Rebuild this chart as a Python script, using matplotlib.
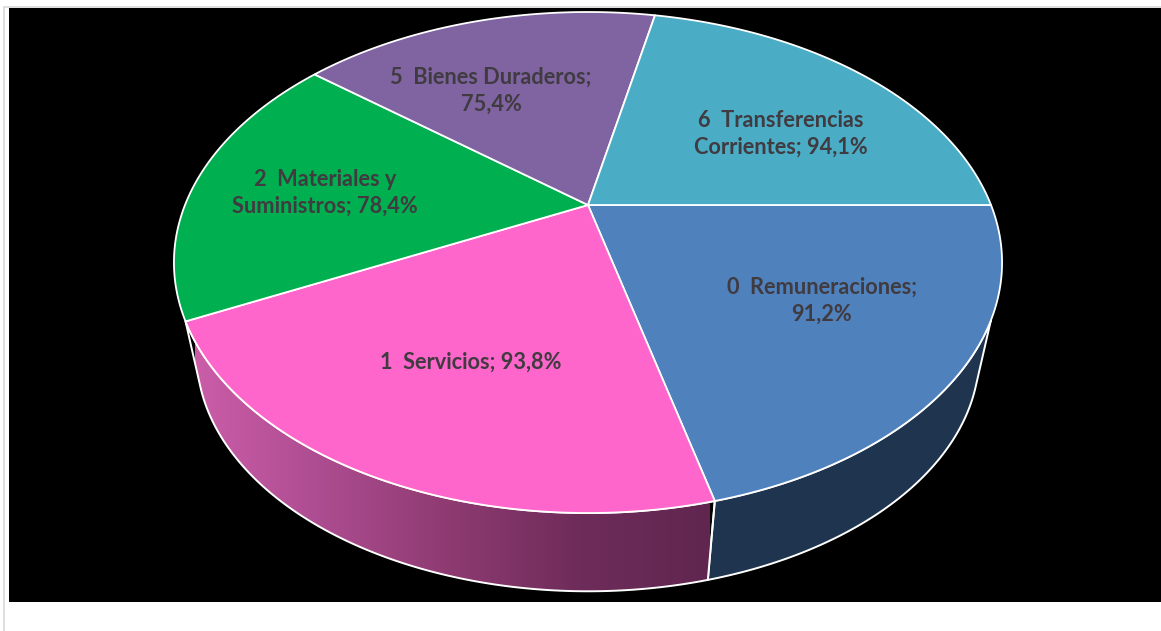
import numpy as np
import matplotlib
matplotlib.use("Agg")
import matplotlib.pyplot as plt
from matplotlib.patches import Polygon, Rectangle
from matplotlib.colors import LinearSegmentedColormap

# ---- data ----
categories = ["0  Remuneraciones", "1  Servicios", "2  Materiales y\nSuministros",
              "5  Bienes Duraderos", "6  Transferencias\nCorrientes"]
values = [91.2, 93.8, 78.4, 75.4, 94.1]
value_labels = ["91,2%", "93,8%", "78,4%", "75,4%", "94,1%"]

# ---- styles ----
top_colors = ["#4F81BD", "#FF66CC", "#00B050", "#8064A2", "#4BACC6"]
label_pos = [(822, 300.5), (471, 362), (325, 192.5), (491, 90.5), (781, 133.5)]
label_breaks = ["\n", " ", " ", "\n", " "]

plt.rcParams["font.family"] = ["Lato", "DejaVu Sans"]
W, H = 1161, 631
fig = plt.figure(figsize=(W / 100, H / 100), dpi=100, facecolor="white")
ax = fig.add_axes([0, 0, 1, 1])
ax.set_xlim(0, W)
ax.set_ylim(H, 0)
ax.axis("off")

# frame
ax.add_patch(Rectangle((3, 6), W, H, fc="#DEDEDE", ec="none", zorder=0))
ax.add_patch(Rectangle((4.5, 8), W, H, fc="white", ec="none", zorder=0.1))
ax.add_patch(Rectangle((9, 8), W, 594, fc="black", ec="none", zorder=0.2))

# perspective projection of the pie plane
XC, YC, A, B, K = 588.0, 205.0, 403.0, 237.3, 0.2296
S, YV = 0.945, 1936.0


def top_rim(t):
    c, s = np.cos(t), np.sin(t)
    d = 1 - K * s
    return XC + A * c / d, YC + B * s / d


def low_rim(t):
    x, y = top_rim(t)
    return XC + (x - XC) * S, YV + (y - YV) * S


fractions = np.array(values) / np.sum(values)
edges = np.concatenate([[0], np.cumsum(fractions)]) * 2 * np.pi

# Side walls: only the two front slices show. Each wall runs from where the
# top rim meets the silhouette, along a tangent, to the lower rim.
split = edges[1]
start_r = np.radians(25.9)   # silhouette leaves the top rim, right
start_l = edges[2]           # silhouette leaves the top rim, left

cand = np.linspace(0, split, 800)
px, py = top_rim(start_r)
lx, ly = low_rim(cand)
cand_r = cand[ly > py + 1]
angle_r = np.arctan2(ly[ly > py + 1] - py, lx[ly > py + 1] - px)
tan_r = cand_r[np.argmin(angle_r)]

cand = np.linspace(split, np.pi, 800)
qx, qy = top_rim(start_l)
lx, ly = low_rim(cand)
tan_l = cand[np.argmax(np.arctan2(ly - qy, lx - qx))]

# right wall (slice 0)
t1 = np.linspace(start_r, split, 200)
t2 = np.linspace(split, tan_r, 200)
x1, y1 = top_rim(t1)
x2, y2 = low_rim(t2)
right_pts = np.column_stack([np.r_[x1, x2], np.r_[y1, y2]])
ax.add_patch(Polygon(right_pts, closed=True, fc="#1F354F", ec="white", lw=1.4,
                     zorder=2, joinstyle="round"))

# left wall (slice 1) with horizontal shading
t1 = np.linspace(split, start_l, 200)
t2 = np.linspace(tan_l, split, 200)
x1, y1 = top_rim(t1)
x2, y2 = low_rim(t2)
left_pts = np.column_stack([np.r_[x1, x2], np.r_[y1, y2]])
poly = Polygon(left_pts, closed=True, fc="none", ec="none", zorder=2)
ax.add_patch(poly)
cmap = LinearSegmentedColormap.from_list(
    "side", ["#CB5DA8", "#AC4C90", "#8D3A70", "#6E2C5A", "#602650"])
im = ax.imshow(np.linspace(0, 1, 256)[None, :], cmap=cmap, aspect="auto",
               extent=(195, 710, H, 0), zorder=2, interpolation="bilinear")
im.set_clip_path(poly)
ax.add_patch(Polygon(left_pts, closed=True, fc="none", ec="white", lw=1.4,
                     zorder=2.1, joinstyle="round"))
ax.set_xlim(0, W)
ax.set_ylim(H, 0)

# top face
for i in range(len(values)):
    t = np.linspace(edges[i], edges[i + 1], 300)
    x, y = top_rim(t)
    pts = np.column_stack([np.r_[XC, x], np.r_[YC, y]])
    ax.add_patch(Polygon(pts, closed=True, fc=top_colors[i], ec="white", lw=1.3,
                         zorder=3, joinstyle="round"))

# labels
for name, val, pos, sep in zip(categories, value_labels, label_pos, label_breaks):
    ax.text(pos[0], pos[1], f"{name};{sep}{val}", ha="center", va="center",
            ma="center", fontsize=15.7, fontweight="bold", color="#403B40",
            linespacing=1.33, zorder=5)

fig.savefig("out.png", dpi=100, facecolor="white")
